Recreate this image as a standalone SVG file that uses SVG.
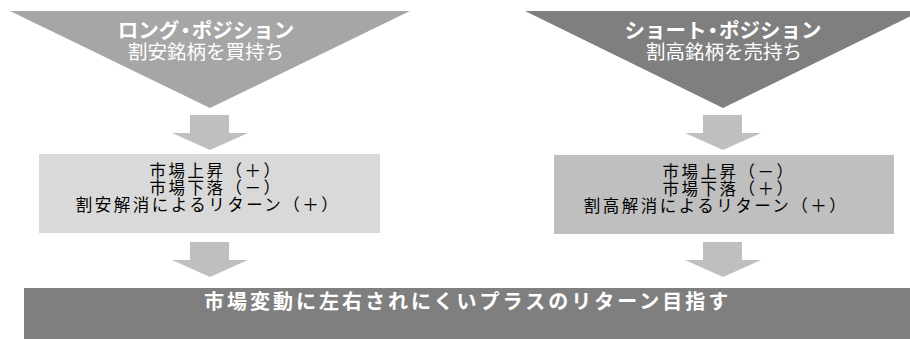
<svg xmlns="http://www.w3.org/2000/svg" width="910" height="339" viewBox="0 0 910 339">
<style>
.jp{font-family:"Noto Sans CJK JP","Noto Sans CJK SC",sans-serif;}
.title{font-size:20.5px;font-weight:bold;fill:#fff;text-anchor:middle;}
.sub{font-size:19.5px;fill:#fff;text-anchor:middle;}
.box{font-size:16.5px;fill:#000;text-anchor:middle;letter-spacing:2.5px;}
.goal{font-size:20px;font-weight:bold;fill:#fff;letter-spacing:3px;}
.arrow{fill:#bfbfbf;}
</style>
<defs>
<path id="arr" d="M-20,0 H19 V18 H38 L0,35 L-38,18 H-20 Z"/>
</defs>
<rect width="910" height="339" fill="#fff"/>
<g id="long">
<polygon points="10,11 410,11 210,108" fill="#a6a6a6"/>
<text class="jp title" x="206" y="38">ロング<tspan dx="-4">・</tspan><tspan dx="-4">ポジション</tspan></text>
<text class="jp sub" x="206" y="59">割安銘柄を買持ち</text>
</g>
<g id="short">
<polygon points="525,11 921,11 723,108" fill="#7f7f7f"/>
<text class="jp title" x="723" y="38">ショート<tspan dx="-4">・</tspan><tspan dx="-4">ポジション</tspan></text>
<text class="jp sub" x="724" y="59">割高銘柄を売持ち</text>
</g>
<g id="long-result">
<rect x="39" y="154" width="341" height="79" fill="#d9d9d9"/>
<text class="jp box" x="216" y="177">市場上昇（＋）</text>
<text class="jp box" x="216" y="194">市場下落（－）</text>
<text class="jp box" x="208" y="211">割安解消によるリターン（＋）</text>
</g>
<g id="short-result">
<rect x="554" y="155" width="340" height="79" fill="#bfbfbf"/>
<text class="jp box" x="729" y="178">市場上昇（－）</text>
<text class="jp box" x="729" y="195">市場下落（＋）</text>
<text class="jp box" x="716" y="212">割高解消によるリターン（＋）</text>
</g>
<g id="goal">
<rect x="24" y="288" width="886" height="51" fill="#7f7f7f"/>
<text class="jp goal" x="204" y="309">市場変動に左右されにくいプラスのリターン目指す</text>
</g>
<g id="connectors" class="arrow">
<use href="#arr" x="210" y="115"/>
<use href="#arr" x="210" y="242"/>
<use href="#arr" x="723" y="115"/>
<use href="#arr" x="723" y="242"/>
</g>
</svg>
